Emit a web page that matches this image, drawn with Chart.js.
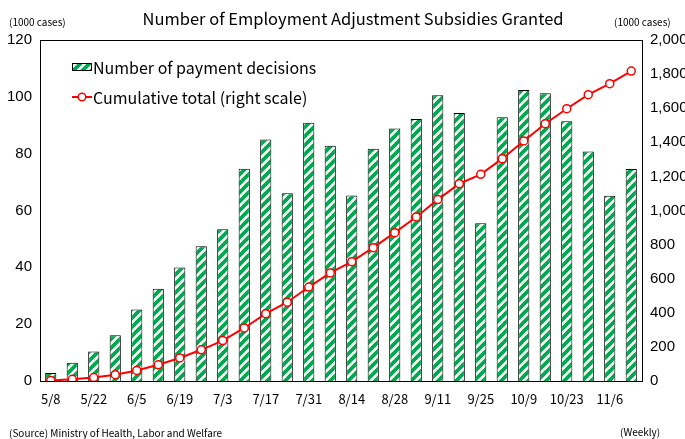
<!DOCTYPE html>
<html>
<head>
<meta charset="utf-8">
<script src="https://cdn.jsdelivr.net/npm/chart.js@4.4.0/dist/chart.umd.min.js"></script>
<style>
  html, body { margin: 0; padding: 0; background: #fff; }
  #wrap { width: 685px; height: 439px; position: relative; }
</style>
</head>
<body>
<div id="wrap"><canvas id="myChart" width="685" height="439"></canvas></div>
<script>
// weekly dates
const weeks = ['5/8', '5/15', '5/22', '5/29', '6/5', '6/12', '6/19', '6/26', '7/3', '7/10',
  '7/17', '7/24', '7/31', '8/7', '8/14', '8/21', '8/28', '9/4', '9/11', '9/18',
  '9/25', '10/2', '10/9', '10/16', '10/23', '10/30', '11/6', '11/13'];

// number of payment decisions (1000 cases)
const decisions = [2.8, 6.4, 10.4, 16.1, 25.2, 32.5, 39.9, 47.4, 53.4, 74.7,
  85.0, 66.1, 90.9, 82.8, 65.3, 81.7, 88.9, 92.2, 100.6, 94.3,
  55.5, 92.8, 102.4, 101.3, 91.4, 80.8, 65.2, 74.6];

// cumulative total (1000 cases), right scale
const cumulative = [3, 10, 20, 37, 62, 95, 135, 183, 237, 311,
  395, 462, 551, 634, 700, 782, 870, 962, 1064, 1157,
  1212, 1304, 1408, 1509, 1597, 1679, 1744, 1818];

const leftTicks = [0, 20, 40, 60, 80, 100, 120];
const rightTicks = [0, 200, 400, 600, 800, 1000, 1200, 1400, 1600, 1800, 2000];

const GREEN = '#00a84f';
const RED = '#ff0000';
const FONT = "'Noto Sans CJK JP', 'DejaVu Sans', sans-serif";
const NUMFONT = "'Liberation Sans', Arial, sans-serif";

// striped fill for the bars
function makeStripes() {
  const c = document.createElement('canvas');
  c.width = 9; c.height = 9;
  const g = c.getContext('2d');
  g.fillStyle = '#fff';
  g.fillRect(0, 0, 9, 9);
  g.strokeStyle = GREEN;
  g.lineWidth = 3.8;
  g.beginPath();
  for (let k = -9; k <= 9; k += 9) {
    g.moveTo(k - 1, 10);
    g.lineTo(k + 10, -1);
  }
  g.stroke();
  return g.createPattern(c, 'repeat');
}
const stripes = makeStripes();

// texts and legend drawn inside the frame
const extras = {
  id: 'extras',
  afterDraw(chart) {
    const ctx = chart.ctx;
    const a = chart.chartArea;
    ctx.save();
    // frame
    ctx.strokeStyle = '#000';
    ctx.lineWidth = 1;
    ctx.strokeRect(Math.round(a.left) + 0.5, Math.round(a.top) + 0.5,
      Math.round(a.right - a.left), Math.round(a.bottom - a.top));

    ctx.fillStyle = '#000';
    ctx.textBaseline = 'middle';
    ctx.textAlign = 'center';
    ctx.font = '16.5px ' + FONT;
    ctx.fillText('Number of Employment Adjustment Subsidies Granted', 353, 19);

    ctx.font = '10px ' + FONT;
    ctx.textAlign = 'left';
    ctx.fillText('(1000 cases)', 9, 22);
    ctx.fillText('(1000 cases)', 614, 22);
    ctx.fillText('(Source) Ministry of Health, Labor and Welfare', 9, 433);
    ctx.fillText('(Weekly)', 620, 432);

    // legend
    ctx.fillStyle = stripes;
    ctx.fillRect(72, 63, 20, 8);
    ctx.strokeStyle = '#000';
    ctx.strokeRect(72.5, 63.5, 19, 7);
    ctx.strokeStyle = RED;
    ctx.lineWidth = 2;
    ctx.beginPath();
    ctx.moveTo(72, 97);
    ctx.lineTo(92, 97);
    ctx.stroke();
    ctx.fillStyle = '#fff';
    ctx.lineWidth = 1.5;
    ctx.beginPath();
    ctx.arc(82, 97, 3.8, 0, Math.PI * 2);
    ctx.fill();
    ctx.stroke();

    ctx.fillStyle = '#000';
    ctx.font = '16px ' + FONT;
    ctx.fillText(chart.data.datasets[1].label, 93, 68);
    ctx.fillText(chart.data.datasets[0].label, 93, 98);
    ctx.restore();
  }
};

const ctx = document.getElementById('myChart').getContext('2d');

new Chart(ctx, {
  data: {
    labels: weeks,
    datasets: [{
      type: 'line',
      label: 'Cumulative total (right scale)',
      data: cumulative,
      yAxisID: 'y2',
      borderColor: RED,
      borderWidth: 2,
      pointRadius: 4,
      pointBorderWidth: 1.5,
      pointBackgroundColor: '#fff',
      pointBorderColor: RED,
      tension: 0,
      order: 0
    }, {
      type: 'bar',
      label: 'Number of payment decisions',
      data: decisions,
      yAxisID: 'y',
      backgroundColor: stripes,
      borderColor: '#000',
      borderWidth: 1,
      borderSkipped: 'bottom',
      barPercentage: 0.52,
      categoryPercentage: 1,
      order: 1
    }]
  },
  options: {
    responsive: false,
    animation: false,
    layout: { padding: { top: 40, left: 0, right: 0, bottom: 0 } },
    plugins: {
      legend: { display: false },
      title: { display: false },
      tooltip: { enabled: false }
    },
    scales: {
      x: {
        grid: { display: false, drawTicks: false },
        border: { display: false },
        ticks: {
          autoSkip: false,
          maxRotation: 0,
          padding: 10,
          color: '#000',
          font: { family: FONT, size: 13 },
          callback: function(v, i) { return i % 2 === 0 ? weeks[i] : ''; }
        },
        afterFit(s) { s.height = 58; }
      },
      y: {
        position: 'left',
        min: 0,
        max: 120,
        afterBuildTicks(s) { s.ticks = leftTicks.map(v => ({ value: v })); },
        grid: { display: false, drawTicks: false },
        border: { display: false },
        ticks: {
          padding: 8,
          color: '#000',
          font: { family: NUMFONT, size: 15 }
        },
        afterFit(s) { s.width = 40; }
      },
      y2: {
        position: 'right',
        min: 0,
        max: 2000,
        afterBuildTicks(s) { s.ticks = rightTicks.map(v => ({ value: v })); },
        grid: { display: false, drawTicks: false },
        border: { display: false },
        ticks: {
          padding: 8,
          color: '#000',
          font: { family: NUMFONT, size: 15 },
          callback: v => v.toLocaleString('en-US')
        },
        afterFit(s) { s.width = 43; }
      }
    }
  },
  plugins: [extras]
});
</script>
</body>
</html>
